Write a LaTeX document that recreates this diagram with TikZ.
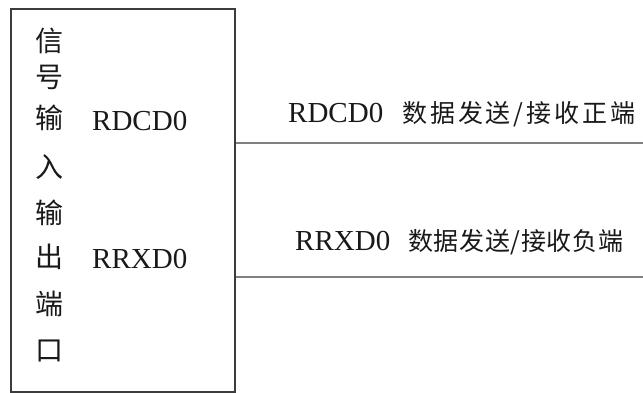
\documentclass[tikz,border=0pt]{standalone}
\usepackage{fontspec}
\setmainfont{Liberation Serif}
\newfontfamily\cjk{Noto Sans CJK SC}
\definecolor{boxline}{RGB}{60,60,60}
\definecolor{wire}{RGB}{128,128,128}
\definecolor{ink}{RGB}{25,25,25}
\tikzset{
  colchar/.style={inner sep=0pt, anchor=center, text=ink, font=\cjk\fontsize{28}{28}\selectfont},
  latin/.style={inner sep=0pt, anchor=base west, text=ink, font=\fontsize{29}{29}\selectfont},
  cjklabel/.style={inner sep=0pt, anchor=west, text=ink, font=\cjk\fontsize{25}{25}\selectfont},
  portbox/.style={draw=boxline, line width=1.5pt, inner sep=0pt, anchor=north west},
  wireline/.style={draw=wire, line width=2pt}
}
\begin{document}
\begin{tikzpicture}[x=1pt,y=-1pt]
\useasboundingbox (0,0) rectangle (643,392);
\node[portbox, minimum width=224pt, minimum height=383pt] (box) at (10,8) {};
% vertical column
\node[colchar] (c1) at (49.5,41) {信};
\node[colchar] (c2) at (49.5,77) {号};
\node[colchar] (c3) at (49.5,118) {输};
\node[colchar] (c4) at (49.5,167) {入};
\node[colchar] (c5) at (49.5,213) {输};
\node[colchar] (c6) at (49.5,257) {出};
\node[colchar] (c7) at (49.5,304) {端};
\node[colchar] (c8) at (49.5,351) {口};
% pin names in box
\node[latin] (p1) at (92,130) {RDCD0};
\node[latin] (p2) at (92,268) {RRXD0};
% wires
\coordinate (w1) at (643,143);
\coordinate (w2) at (643,277);
\draw[wireline] (box.east |- w1) -- (w1);
\draw[wireline] (box.east |- w2) -- (w2);
% labels
\node[latin] (t1) at (288,122) {RDCD0};
\node[cjklabel] (d1) at (402,114.5) {\makebox[233pt][s]{数\hfill 据\hfill 发\hfill 送\hfill /\hfill 接\hfill 收\hfill 正\hfill 端}};
\node[latin] (t2) at (295,250) {RRXD0};
\node[cjklabel] (d2) at (408,242.5) {\makebox[215pt][s]{数\hfill 据\hfill 发\hfill 送\hfill /\hfill 接\hfill 收\hfill 负\hfill 端}};
\end{tikzpicture}
\end{document}
